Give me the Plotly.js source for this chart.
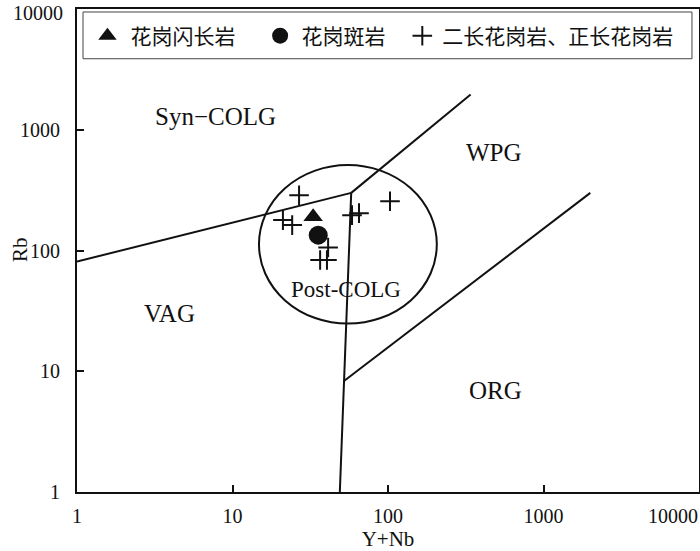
<!DOCTYPE html>
<html><head><meta charset="utf-8">
<script src="https://cdn.plot.ly/plotly-3.0.1.min.js"></script>
<style>html,body{margin:0;padding:0;background:#fff}</style>
</head><body><div id="chart" style="width:700px;height:551px"></div>
<script>
// ---- sample data (Y+Nb, Rb) ----
const triX = [33];
const triY = [190];
const circX = [35.6];
const circY = [134];
const crossX = [26.8, 21.1, 24.2, 41.2, 36.6, 40.5, 58.7, 65.1, 103];
const crossY = [287, 178.5, 162.3, 105.9, 83.5, 83.5, 196.3, 203.8, 256];

// ---- series names ----
const nameTri = '花岗闪长岩';
const nameCirc = '花岗斑岩';
const nameCross = '二长花岗岩、正长花岗岩';

// ---- field boundaries (Pearce 1984) ----
const lineVagSynX = [1, 58];
const lineVagSynY = [81, 300];
const lineSynWpgX = [58, 340];
const lineSynWpgY = [300, 1960];
const lineVagWpgX = [58, 49];
const lineVagWpgY = [300, 1];
const lineWpgOrgX = [52.1, 2000];
const lineWpgOrgY = [8.3, 300];
// post-COLG field (ellipse bounding box in data units)
const postX = [14.8, 206];
const postY = [24.8, 510];

// ---- field labels ----
const fieldNames = ['Syn\u2212COLG', 'WPG', 'Post-COLG', 'VAG', 'ORG'];
const fieldX = [7.73, 480, 53.7, 3.91, 494];
const fieldY = [1286, 649, 47.2, 29.9, 6.94];

// ---- ticks ----
const tickVals = [1, 10, 100, 1000, 10000];
const tickText = ['1', '10', '100', '1000', '10000'];
// the end labels (10000) sit at the figure edge, so they are drawn as edge-anchored notes
const tickTextAxis = tickText.slice(0, 4).concat(['']);
const edgeLabel = tickText[4];

const serif = 'Liberation Serif, Times New Roman, serif';
const cjk = 'Noto Sans CJK SC, sans-serif';
const fieldFontSizes = [25, 25, 23, 25, 25];
const tickFont = {family: serif, size: 20, color: '#111'};

function seg(x, y) {
  return {x: x, y: y, mode: 'lines', type: 'scatter', line: {color: '#111', width: 2},
          showlegend: false, hoverinfo: 'skip'};
}

const traces = [
  seg(lineVagSynX, lineVagSynY),
  seg(lineSynWpgX, lineSynWpgY),
  seg(lineVagWpgX, lineVagWpgY),
  seg(lineWpgOrgX, lineWpgOrgY),
  {x: triX, y: triY, name: nameTri, type: 'scatter', mode: 'markers', legend: 'legend',
   marker: {symbol: 'triangle-up', size: 17, color: '#111'}},
  {x: circX, y: circY, name: nameCirc, type: 'scatter', mode: 'markers', legend: 'legend2',
   marker: {symbol: 'circle', size: 19, color: '#111'}},
  {x: crossX, y: crossY, name: nameCross, type: 'scatter', mode: 'markers', legend: 'legend3',
   marker: {symbol: 'cross-thin', size: 14, color: '#111', line: {color: '#111', width: 2}}}
];

const annotations = fieldNames.map((t, i) => ({
  text: t, x: Math.log10(fieldX[i]), y: Math.log10(fieldY[i]), xref: 'x', yref: 'y',
  xanchor: 'center', yanchor: 'middle',
  showarrow: false, font: {family: serif, size: fieldFontSizes[i], color: '#111'}
}));
annotations.push({text: 'Rb', xref: 'paper', yref: 'paper', x: -0.0916, y: 0.501,
  xanchor: 'center', yanchor: 'middle',
  textangle: -90, showarrow: false, font: {family: serif, size: 21, color: '#111'}});
// x-axis end label
annotations.push({text: edgeLabel, xref: 'paper', yref: 'paper', x: 1, y: 0,
  xanchor: 'right', yanchor: 'middle', yshift: -24, xshift: 1,
  showarrow: false, font: tickFont});
// y-axis end label
annotations.push({text: edgeLabel, xref: 'paper', yref: 'paper', x: 0, y: 1,
  xanchor: 'right', yanchor: 'top', yshift: 9, xshift: -12,
  showarrow: false, font: tickFont});

function legendAt(px, iw) {
  return {x: px, y: 0.944, xanchor: 'left', yanchor: 'middle', orientation: 'h', itemwidth: iw,
          bgcolor: 'rgba(0,0,0,0)', borderwidth: 0, font: {family: cjk, size: 21, color: '#111'}};
}

const axisCommon = {
  type: 'log', range: [0, 4], tickvals: tickVals, ticktext: tickTextAxis,
  ticks: 'inside', ticklen: 7, tickwidth: 2, tickcolor: '#111',
  showline: true, linewidth: 2, linecolor: '#111', mirror: true,
  showgrid: false, zeroline: false,
  tickfont: tickFont
};

const layout = {
  width: 700, height: 551,
  margin: {l: 77, r: 1, t: 9, b: 59},
  paper_bgcolor: '#fff', plot_bgcolor: '#fff',
  xaxis: Object.assign({}, axisCommon, {
    ticklabelstandoff: 5,
    title: {text: 'Y+Nb', font: {family: serif, size: 21, color: '#111'}, standoff: 6}
  }),
  yaxis: Object.assign({}, axisCommon, {ticklabelstandoff: 11}),
  legend: legendAt(0.012, 36),
  legend2: legendAt(0.292, 33),
  legend3: legendAt(0.523, 30),
  shapes: [
    {type: 'circle', xref: 'x', yref: 'y', x0: postX[0], x1: postX[1], y0: postY[0], y1: postY[1],
     line: {color: '#111', width: 2}},
    {type: 'rect', xref: 'paper', yref: 'paper', x0: 0.00965, x1: 0.9887, y0: 0.897, y1: 0.9938,
     line: {color: '#444', width: 1}}
  ],
  annotations: annotations,
  showlegend: true
};

Plotly.newPlot('chart', traces, layout, {displayModeBar: false, staticPlot: true});
</script>
</body></html>
